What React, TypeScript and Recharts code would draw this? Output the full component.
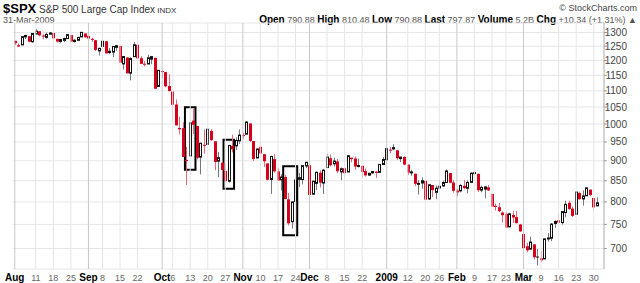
import React from "react"
import {
  ComposedChart, Bar, XAxis, YAxis, CartesianGrid, ReferenceArea, ReferenceLine,
} from "recharts"

// trading days, Aug 1 2008 .. Mar 31 2009
const days = [
  "Aug 1", "Aug 4", "Aug 5", "Aug 6", "Aug 7", "Aug 8", "Aug 11", "Aug 12", "Aug 13", "Aug 14", "Aug 15",
  "Aug 18", "Aug 19", "Aug 20", "Aug 21", "Aug 22", "Aug 25", "Aug 26", "Aug 27", "Aug 28", "Aug 29",
  "Sep 2", "Sep 3", "Sep 4", "Sep 5", "Sep 8", "Sep 9", "Sep 10", "Sep 11", "Sep 12", "Sep 15", "Sep 16",
  "Sep 17", "Sep 18", "Sep 19", "Sep 22", "Sep 23", "Sep 24", "Sep 25", "Sep 26", "Sep 29", "Sep 30",
  "Oct 1", "Oct 2", "Oct 3", "Oct 6", "Oct 7", "Oct 8", "Oct 9", "Oct 10", "Oct 13", "Oct 14", "Oct 15",
  "Oct 16", "Oct 17", "Oct 20", "Oct 21", "Oct 22", "Oct 23", "Oct 24", "Oct 27", "Oct 28", "Oct 29",
  "Oct 30", "Oct 31",
  "Nov 3", "Nov 4", "Nov 5", "Nov 6", "Nov 7", "Nov 10", "Nov 11", "Nov 12", "Nov 13", "Nov 14", "Nov 17",
  "Nov 18", "Nov 19", "Nov 20", "Nov 21", "Nov 24", "Nov 25", "Nov 26", "Nov 28",
  "Dec 1", "Dec 2", "Dec 3", "Dec 4", "Dec 5", "Dec 8", "Dec 9", "Dec 10", "Dec 11", "Dec 12", "Dec 15",
  "Dec 16", "Dec 17", "Dec 18", "Dec 19", "Dec 22", "Dec 23", "Dec 24", "Dec 26", "Dec 29", "Dec 30", "Dec 31",
  "Jan 2", "Jan 5", "Jan 6", "Jan 7", "Jan 8", "Jan 9", "Jan 12", "Jan 13", "Jan 14", "Jan 15", "Jan 16",
  "Jan 20", "Jan 21", "Jan 22", "Jan 23", "Jan 26", "Jan 27", "Jan 28", "Jan 29", "Jan 30",
  "Feb 2", "Feb 3", "Feb 4", "Feb 5", "Feb 6", "Feb 9", "Feb 10", "Feb 11", "Feb 12", "Feb 13", "Feb 17",
  "Feb 18", "Feb 19", "Feb 20", "Feb 23", "Feb 24", "Feb 25", "Feb 26", "Feb 27",
  "Mar 2", "Mar 3", "Mar 4", "Mar 5", "Mar 6", "Mar 9", "Mar 10", "Mar 11", "Mar 12", "Mar 13", "Mar 16",
  "Mar 17", "Mar 18", "Mar 19", "Mar 20", "Mar 23", "Mar 24", "Mar 25", "Mar 26", "Mar 27", "Mar 30", "Mar 31",
]

const opens = [
  1269.4, 1253.3, 1254.9, 1284.0, 1286.5, 1266.3, 1294.4, 1304.8, 1288.6, 1282.1, 1293.9,
  1298.1, 1276.7, 1267.3, 1271.1, 1277.6, 1290.5, 1267.0, 1271.3, 1283.8, 1296.5,
  1287.8, 1276.6, 1271.8, 1233.2, 1249.5, 1268.0, 1227.5, 1229.0, 1245.9, 1250.9, 1188.3,
  1210.3, 1157.1, 1213.1, 1255.4, 1207.6, 1188.8, 1187.9, 1204.5, 1209.1, 1113.8,
  1164.2, 1160.6, 1115.2, 1097.6, 1057.6, 988.9, 988.4, 902.3, 912.8, 1010.0, 994.6,
  909.5, 942.3, 943.5, 980.4, 951.7, 899.1, 895.1, 874.3, 848.9, 939.5,
  939.4, 953.1,
  968.7, 971.3, 1001.8, 952.4, 907.4, 936.8, 917.2, 893.4, 853.1, 904.4, 873.2,
  852.3, 859.0, 805.9, 755.8, 801.2, 853.4, 852.9, 886.9,
  888.6, 817.9, 843.6, 869.8, 844.4, 882.7, 906.5, 892.2, 898.4, 871.8, 881.1,
  871.5, 908.2, 906.0, 887.0, 887.2, 874.3, 863.9, 869.5, 872.4, 870.6, 890.6,
  903.0, 929.2, 931.2, 927.5, 905.7, 909.9, 890.4, 869.8, 867.3, 842.0, 844.5,
  849.6, 806.8, 839.7, 822.2, 832.5, 837.3, 845.7, 868.9, 845.7,
  823.1, 825.7, 837.8, 831.8, 846.1, 868.2, 866.9, 827.4, 829.9, 834.0, 818.6,
  791.1, 787.9, 775.9, 773.3, 744.7, 770.6, 765.8, 749.9,
  729.6, 704.4, 698.6, 708.3, 684.0, 680.8, 679.3, 719.6, 720.9, 752.0, 758.8,
  753.9, 776.0, 797.9, 784.6, 772.0, 820.6, 806.8, 814.1, 828.7, 809.1, 790.9,
]

const highs = [
  1270.5, 1260.5, 1284.9, 1291.7, 1286.5, 1297.9, 1313.2, 1304.8, 1294.0, 1300.1, 1302.1,
  1300.2, 1276.7, 1276.0, 1281.4, 1293.1, 1290.5, 1275.7, 1285.1, 1300.7, 1296.5,
  1303.0, 1280.6, 1271.8, 1244.9, 1274.4, 1268.7, 1243.9, 1250.0, 1255.1, 1250.9, 1214.8,
  1210.3, 1211.1, 1265.1, 1255.4, 1214.8, 1197.4, 1220.0, 1215.8, 1209.1, 1168.0,
  1167.0, 1160.6, 1153.8, 1097.6, 1072.9, 1021.1, 1005.3, 936.4, 1006.9, 1044.3, 994.6,
  947.7, 984.6, 985.4, 985.4, 951.7, 922.8, 896.3, 893.8, 940.5, 970.0,
  963.2, 984.4,
  975.6, 1007.5, 1001.8, 952.4, 931.5, 952.0, 917.2, 893.4, 913.0, 916.9, 882.3,
  865.9, 864.6, 820.5, 801.2, 865.6, 868.9, 887.7, 896.3,
  888.6, 850.5, 873.1, 875.6, 879.4, 918.6, 916.3, 908.3, 904.6, 883.2, 884.6,
  914.7, 908.2, 911.0, 905.5, 887.4, 880.4, 869.8, 873.7, 873.7, 891.1, 910.3,
  934.7, 936.6, 943.9, 927.5, 910.0, 911.9, 890.4, 877.0, 867.3, 851.6, 858.1,
  849.6, 841.7, 839.7, 838.6, 852.5, 850.5, 877.9, 868.9, 851.7,
  830.8, 842.6, 851.9, 850.6, 870.8, 875.0, 868.1, 838.2, 835.5, 839.4, 818.6,
  796.2, 797.6, 778.7, 777.9, 775.5, 780.1, 779.4, 751.3,
  729.6, 711.7, 724.1, 708.3, 699.1, 695.3, 719.6, 731.9, 752.6, 758.3, 774.5,
  778.1, 803.0, 803.2, 788.9, 823.4, 823.7, 826.8, 833.0, 828.7, 809.1, 810.5,
]

const lows = [
  1254.5, 1247.5, 1254.7, 1276.0, 1264.3, 1262.1, 1292.8, 1285.6, 1274.9, 1276.8, 1290.7,
  1274.5, 1263.1, 1261.2, 1265.2, 1277.6, 1264.9, 1263.2, 1270.0, 1283.8, 1280.9,
  1272.2, 1265.6, 1232.8, 1217.2, 1247.1, 1224.5, 1221.6, 1211.5, 1233.8, 1192.7, 1169.3,
  1155.9, 1133.5, 1213.1, 1205.6, 1188.2, 1179.8, 1187.9, 1187.5, 1106.4, 1113.8,
  1140.8, 1111.4, 1098.1, 1008.0, 996.2, 971.0, 909.2, 839.8, 912.8, 972.1, 904.0,
  865.8, 918.7, 943.5, 952.5, 875.8, 858.4, 852.9, 846.8, 845.3, 922.3,
  928.5, 944.6,
  958.8, 971.3, 949.9, 899.7, 906.9, 907.5, 884.9, 850.5, 818.7, 869.9, 849.0,
  826.8, 806.2, 747.8, 741.0, 801.2, 835.0, 841.4, 881.2,
  815.7, 817.9, 827.6, 833.6, 818.4, 882.7, 885.4, 885.5, 868.7, 851.4, 857.7,
  871.5, 895.9, 877.4, 883.0, 857.1, 860.1, 861.4, 866.5, 857.1, 870.6, 889.7,
  899.4, 919.5, 927.3, 902.4, 896.8, 888.3, 864.3, 862.0, 836.9, 817.0, 830.7,
  804.5, 804.3, 811.3, 806.1, 827.7, 835.4, 845.7, 844.2, 821.7,
  812.9, 822.0, 829.2, 819.9, 845.4, 861.7, 823.0, 822.3, 808.1, 825.2, 789.2,
  780.4, 777.0, 754.3, 742.4, 744.7, 752.9, 751.8, 734.5,
  699.7, 692.3, 698.6, 677.9, 666.8, 672.9, 679.3, 713.9, 714.8, 742.5, 753.4,
  749.9, 765.6, 781.8, 766.2, 772.0, 805.5, 791.4, 814.1, 813.4, 779.8, 790.9,
]

const closes = [
  1260.3, 1249.0, 1284.9, 1289.2, 1266.1, 1296.3, 1305.3, 1289.6, 1285.8, 1292.9, 1298.2,
  1278.6, 1266.7, 1274.5, 1277.7, 1292.2, 1266.8, 1271.5, 1281.7, 1300.7, 1282.8,
  1277.6, 1275.0, 1236.8, 1242.3, 1267.8, 1224.5, 1232.0, 1249.1, 1251.7, 1192.7, 1213.6,
  1156.4, 1206.5, 1255.1, 1207.1, 1188.2, 1185.9, 1209.2, 1213.3, 1106.4, 1166.4,
  1161.1, 1114.3, 1099.2, 1056.9, 996.2, 984.9, 909.9, 899.2, 1003.4, 998.0, 907.8,
  946.4, 940.6, 985.4, 955.1, 896.8, 908.1, 876.8, 848.9, 940.5, 930.1,
  954.1, 968.8,
  966.3, 1005.8, 952.8, 904.9, 931.0, 919.2, 899.0, 852.3, 911.3, 873.3, 850.8,
  859.1, 806.6, 752.4, 800.0, 851.8, 857.4, 887.7, 896.2,
  816.2, 848.8, 870.7, 845.2, 876.1, 909.7, 888.7, 899.2, 873.6, 879.7, 868.6,
  913.2, 904.4, 885.3, 887.9, 871.6, 863.2, 868.2, 872.8, 869.4, 890.6, 903.3,
  931.8, 927.5, 934.7, 906.7, 909.7, 890.4, 870.3, 871.8, 842.6, 843.7, 850.1,
  805.2, 840.2, 827.5, 832.0, 836.6, 845.7, 874.1, 845.1, 825.9,
  825.4, 838.5, 832.2, 845.9, 868.6, 869.9, 827.2, 833.7, 835.2, 826.8, 789.2,
  788.4, 778.9, 770.1, 743.3, 773.1, 764.9, 752.8, 735.1,
  700.8, 696.3, 712.9, 682.6, 683.4, 676.5, 719.6, 721.4, 750.7, 756.6, 753.9,
  778.1, 794.4, 784.0, 768.5, 822.9, 806.1, 813.9, 832.9, 815.9, 787.5, 797.9,
]

const tickDays = [
  "Aug 1", "Aug 11", "Aug 18", "Aug 25", "Sep 2", "Sep 8", "Sep 15", "Sep 22",
  "Oct 1", "Oct 6", "Oct 13", "Oct 20", "Oct 27", "Nov 3", "Nov 10", "Nov 17", "Nov 24",
  "Dec 1", "Dec 8", "Dec 15", "Dec 22", "Jan 2", "Jan 12", "Jan 20", "Jan 26",
  "Feb 2", "Feb 9", "Feb 17", "Feb 23", "Mar 2", "Mar 9", "Mar 16", "Mar 23", "Mar 30",
]
const tickLabels = [
  "Aug", "11", "18", "25", "Sep", "8", "15", "22",
  "Oct", "6", "13", "20", "27", "Nov", "10", "17", "24",
  "Dec", "8", "15", "22", "2009", "12", "20", "26",
  "Feb", "9", "17", "23", "Mar", "9", "16", "23", "30",
]
const monthDays = ["Aug 1", "Sep 2", "Oct 1", "Nov 3", "Dec 1", "Jan 2", "Feb 2", "Mar 2"]

const priceTicks = [700, 750, 800, 850, 900, 950, 1000, 1050, 1100, 1150, 1200, 1250, 1300]

// hand-drawn boxes around three reversal clusters
const boxStart = ["Oct 10", "Oct 27", "Nov 19"]
const boxEnd = ["Oct 14", "Oct 29", "Nov 24"]
const boxLow = [877, 831, 727]
const boxHigh = [1049, 956, 886]

const RED = "#d6001c"
const font = "Liberation Sans, Arial, sans-serif"

const data = days.map((d, i) => ({
  day: d,
  open: opens[i],
  high: highs[i],
  low: lows[i],
  close: closes[i],
  prev: i > 0 ? closes[i - 1] : opens[i],
  range: [lows[i], highs[i]],
}))

const Candle = (props: any) => {
  const { x, y, width, height, payload } = props
  if (!payload) return null
  const { open, high, low, close, prev } = payload
  const top = Math.min(y, y + height)
  const h = Math.abs(height)
  const lh = Math.log(high)
  const span = lh - Math.log(low) || 1
  const py = (v: number) => top + (h * (lh - Math.log(v))) / span
  const up = close >= prev
  const hollow = close > open
  const color = up ? "#111" : RED
  const cx = Math.floor(x + width / 2) + 0.5
  const bTop = py(Math.max(open, close))
  const bBot = py(Math.min(open, close))
  const bh = Math.max(1, bBot - bTop)
  return (
    <g>
      <line x1={cx} x2={cx} y1={top} y2={top + h} stroke={up ? "#777" : "#e8677a"} strokeWidth={1} />
      {hollow ? (
        <rect x={cx - 1} y={bTop} width={2} height={bh} fill="#fff" stroke={color} strokeWidth={1} />
      ) : (
        <rect x={cx - 1.5} y={bTop} width={3} height={bh} fill={color} />
      )}
    </g>
  )
}

const DayTick = (props: any) => {
  const { x, y, payload } = props
  const i = tickDays.indexOf(payload.value)
  const bold = monthDays.includes(payload.value)
  return (
    <text
      x={x} y={y + 4} textAnchor="middle"
      fontSize={bold ? 10 : 9} fontWeight={bold ? "bold" : "normal"}
      fill={bold ? "#000" : "#666"} fontFamily={font}
    >
      {tickLabels[i]}
    </text>
  )
}

const PriceTick = (props: any) => {
  const { x, y, payload } = props
  return (
    <text x={x + 18} y={y + 3.5} textAnchor="end" fontSize={10} fill="#444" fontFamily={font}>
      {payload.value}
    </text>
  )
}

export default function App() {
  return (
    <div style={{ position: "absolute", left: 0, top: 0, width: 640, height: 283, background: "#fff", fontFamily: font }}>
      <div style={{ position: "absolute", left: 3, top: 2, whiteSpace: "nowrap", color: "#000", lineHeight: "12px" }}>
        <span style={{ fontSize: 13, fontWeight: "bold" }}>$SPX</span>
        <span style={{ fontSize: 10, color: "#333" }}> S&amp;P 500 Large Cap Index</span>
        <span style={{ fontSize: 8, color: "#333" }}> INDX</span>
      </div>
      <div style={{ position: "absolute", left: 3, top: 15, fontSize: 9, lineHeight: "10px", color: "#555" }}>31-Mar-2009</div>
      <div style={{ position: "absolute", right: 3, top: 3, fontSize: 9, lineHeight: "10px", color: "#444" }}>© StockCharts.com</div>
      <div style={{ position: "absolute", right: 3, top: 15, fontSize: 9, lineHeight: "10px", color: "#555", whiteSpace: "nowrap" }}>
        <b style={{ color: "#000", fontSize: 10 }}>Open</b> 790.88{" "}
        <b style={{ color: "#000", fontSize: 10 }}>High</b> 810.48{" "}
        <b style={{ color: "#000", fontSize: 10 }}>Low</b> 790.88{" "}
        <b style={{ color: "#000", fontSize: 10 }}>Last</b> 797.87{" "}
        <b style={{ color: "#000", fontSize: 10 }}>Volume</b> 5.2B{" "}
        <b style={{ color: "#000", fontSize: 10 }}>Chg</b> +10.34 (+1.31%) ▲
      </div>
      <ComposedChart
        width={640} height={283} data={data}
        margin={{ top: 23, right: 0, bottom: 0, left: 13 }}
        barCategoryGap={0}
      >
        <CartesianGrid vertical={false} stroke="#e6e6e6" />
        <XAxis
          dataKey="day" type="category" ticks={tickDays} interval={0}
          tick={<DayTick />} tickLine={false} axisLine={false} height={14}
          padding={{ left: 0, right: 5 }}
        />
        <YAxis
          orientation="right" scale="log" domain={[660, 1336]} allowDataOverflow
          ticks={priceTicks} interval={0} width={36} tick={<PriceTick />}
          tickLine={{ stroke: "#999" }} tickSize={3} axisLine={{ stroke: "#aaa" }}
        />
        {tickDays.map((d) => (
          <ReferenceLine
            key={d} x={d}
            stroke={monthDays.includes(d) ? "#c8c8c8" : "#e6e6e6"} strokeWidth={1}
          />
        ))}
        <ReferenceArea fill="none" stroke="#aaa" strokeWidth={1} />
        <Bar dataKey="range" shape={<Candle />} isAnimationActive={false} />
        {boxStart.map((s, i) => (
          <ReferenceArea
            key={s} x1={s} x2={boxEnd[i]} y1={boxLow[i]} y2={boxHigh[i]}
            fill="none" fillOpacity={0} stroke="#000" strokeWidth={2}
          />
        ))}
      </ComposedChart>
    </div>
  )
}
